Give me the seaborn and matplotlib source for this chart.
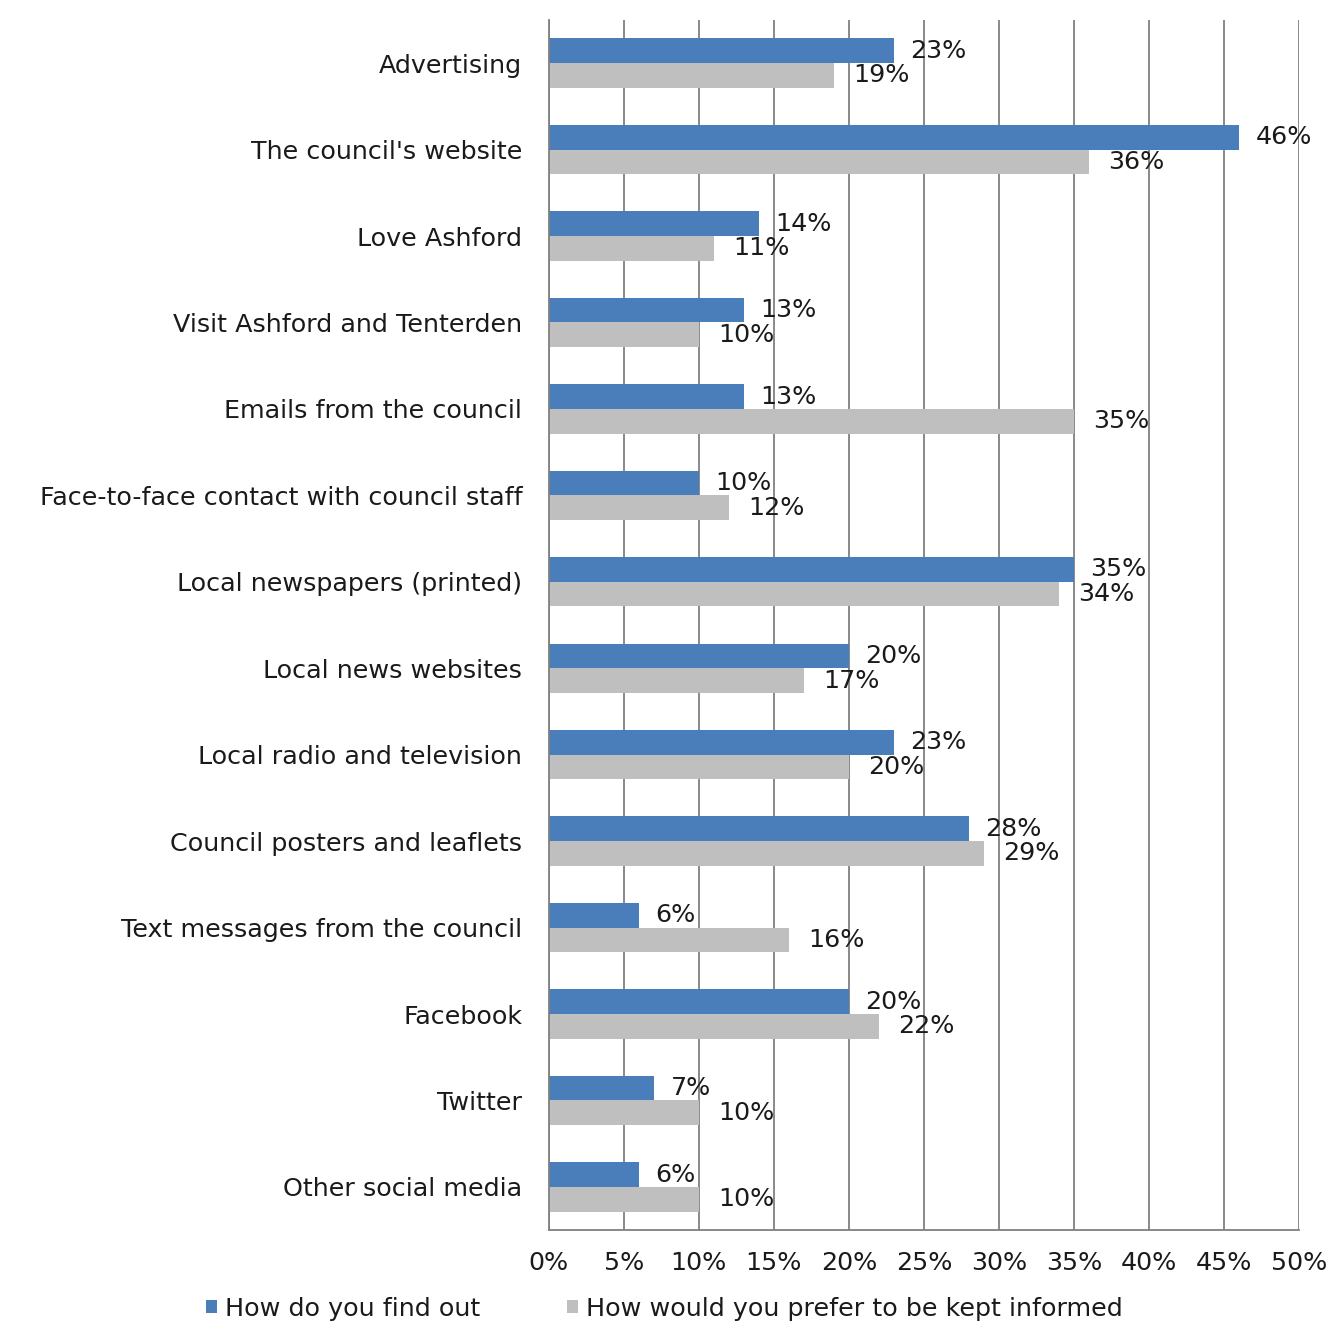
import matplotlib
matplotlib.use("Agg")
import matplotlib.pyplot as plt
import seaborn as sns
import pandas as pd
import numpy as np

categories = [
    "Advertising",
    "The council's website",
    "Love Ashford",
    "Visit Ashford and Tenterden",
    "Emails from the council",
    "Face-to-face contact with council staff",
    "Local newspapers (printed)",
    "Local news websites",
    "Local radio and television",
    "Council posters and leaflets",
    "Text messages from the council",
    "Facebook",
    "Twitter",
    "Other social media",
]
find_out = [23, 46, 14, 13, 13, 10, 35, 20, 23, 28, 6, 20, 7, 6]
prefer = [19, 36, 11, 10, 35, 12, 34, 17, 20, 29, 16, 22, 10, 10]
series_names = ["How do you find out", "How would you prefer to be kept informed"]
x_ticks = [0, 5, 10, 15, 20, 25, 30, 35, 40, 45, 50]

colors = ["#4A7EBB", "#BFBFBF"]
FS = 18.3

df = pd.DataFrame({
    "Channel": categories * 2,
    "Percent": find_out + prefer,
    "Series": [series_names[0]] * len(categories) + [series_names[1]] * len(categories),
})

sns.set_style("white")
plt.rcParams["font.family"] = ["DejaVu Sans"]

fig = plt.figure(figsize=(13.35, 13.27), dpi=100)
ax = fig.add_axes([0.411, 0.073, 0.562, 0.912])

sns.barplot(data=df, y="Channel", x="Percent", hue="Series", orient="h",
            palette=colors, width=0.57, saturation=1, linewidth=0, ax=ax, legend=True)

ax.set_xlim(0, 50)
ax.set_ylim(len(categories) - 0.5, -0.5)
ax.set_xticks(x_ticks)
ax.set_xticklabels([f"{t}%" for t in x_ticks], fontsize=FS)
ax.xaxis.grid(True, color="#808080", linewidth=1.3)
ax.set_axisbelow(True)
ax.set_xlabel("")
ax.set_ylabel("")

# category labels, with ticks between categories
ax.set_yticks(range(len(categories)))
ax.set_yticklabels(categories, fontsize=FS, color="#1a1a1a")
ax.tick_params(axis="y", which="major", length=0, pad=19)
ax.set_yticks(np.arange(-0.5, len(categories), 1.0), minor=True)
ax.tick_params(axis="y", which="minor", length=7, color="#808080", width=1.3, direction="out")
ax.tick_params(axis="x", length=7, color="#808080", width=1.3, direction="out", pad=8,
               labelcolor="#1a1a1a")

for side in ["top", "right"]:
    ax.spines[side].set_visible(False)
for side in ["left", "bottom"]:
    ax.spines[side].set_color("#808080")
    ax.spines[side].set_linewidth(1.3)

# value labels
half = 0.57 / 4
for i, (a, b) in enumerate(zip(find_out, prefer)):
    ax.annotate(f"{a}%", (a, i - half), xytext=(12, 0), textcoords="offset points",
                va="center", ha="left", fontsize=FS, color="#1a1a1a")
    ax.annotate(f"{b}%", (b, i + half), xytext=(14, 0), textcoords="offset points",
                va="center", ha="left", fontsize=FS, color="#1a1a1a")

leg = ax.legend(loc="upper left", bbox_to_anchor=(-0.457, -0.055), ncol=2, frameon=False,
                fontsize=FS, handlelength=0.45, handleheight=0.45, handletextpad=0.3,
                columnspacing=3.4, borderaxespad=0, borderpad=0)
for t in leg.get_texts():
    t.set_color("#1a1a1a")

fig.savefig("out.png", dpi=100, facecolor="white")
